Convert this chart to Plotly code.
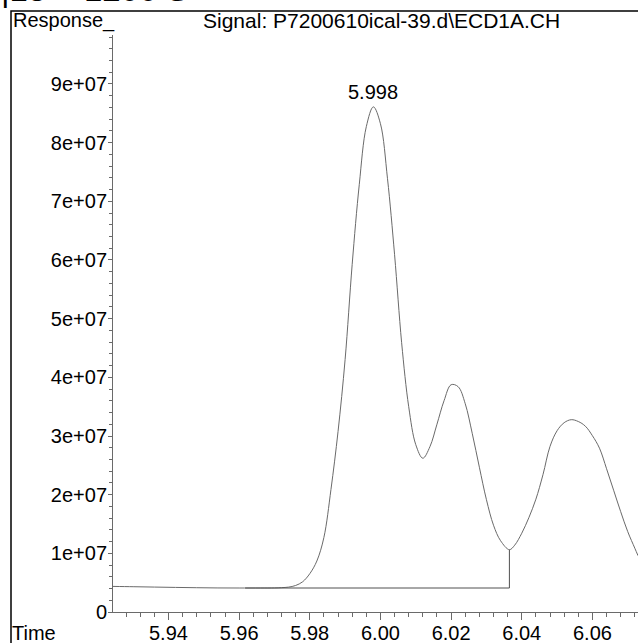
import plotly.graph_objects as go

# Chromatogram trace: retention time (min) and detector response
rt_min = [5.9243, 5.930, 5.936, 5.942, 5.948, 5.954, 5.960, 5.966, 5.970,
          5.972, 5.974, 5.976, 5.978, 5.980, 5.982, 5.984, 5.986, 5.988,
          5.990, 5.992, 5.994, 5.996, 5.998, 6.000, 6.002, 6.004, 6.006,
          6.008, 6.010, 6.012, 6.014, 6.016, 6.018, 6.020, 6.022, 6.024,
          6.026, 6.028, 6.030, 6.032, 6.034, 6.0365, 6.038, 6.040, 6.042,
          6.044, 6.046, 6.048, 6.050, 6.052, 6.054, 6.056, 6.058, 6.060,
          6.062, 6.064, 6.066, 6.068, 6.070, 6.072, 6.0729]
response = [4.36e6, 4.31e6, 4.25e6, 4.19e6, 4.14e6, 4.10e6, 4.09e6, 4.09e6,
            4.10e6, 4.15e6, 4.24e6, 4.52e6, 5.16e6, 6.53e6, 8.69e6, 1.272e7,
            2.090e7, 3.078e7, 4.305e7, 5.925e7, 7.283e7, 8.272e7, 8.61e7,
            8.323e7, 7.385e7, 6.090e7, 4.590e7, 3.499e7, 2.852e7, 2.621e7,
            2.817e7, 3.201e7, 3.601e7, 3.874e7, 3.840e7, 3.550e7, 3.039e7,
            2.468e7, 1.914e7, 1.479e7, 1.215e7, 1.062e7, 1.139e7, 1.343e7,
            1.607e7, 1.923e7, 2.340e7, 2.823e7, 3.090e7, 3.227e7, 3.278e7,
            3.247e7, 3.167e7, 3.005e7, 2.792e7, 2.442e7, 2.076e7, 1.710e7,
            1.369e7, 1.087e7, 9.60e6]

# Integration baseline of the first peak (start/end) and labelled apex
base_rt = [5.9617, 6.0365]
base_resp = [4.09e6, 4.09e6]
peak_rt = 5.998

# Axis ticks
x_ticks = [5.94, 5.96, 5.98, 6.00, 6.02, 6.04, 6.06]
x_ticklabels = ["5.94", "5.96", "5.98", "6.00", "6.02", "6.04", "6.06"]
y_ticks = [0, 1e7, 2e7, 3e7, 4e7, 5e7, 6e7, 7e7, 8e7, 9e7]
y_ticklabels = ["0", "1e+07", "2e+07", "3e+07", "4e+07", "5e+07",
                "6e+07", "7e+07", "8e+07", "9e+07"]

W, H = 638, 643
ML, MR, MT, MB = 113, 0, 35, 31
PW, PH = W - ML - MR, H - MT - MB


def px(x):
    return (x - ML) / PW


def py(y):
    return (H - MB - y) / PH


FONT = "Liberation Sans, Arial, sans-serif"
GRAY = "#6a6a6a"

fig = go.Figure()

fig.add_trace(go.Scatter(
    x=rt_min, y=response, mode="lines",
    line=dict(color=GRAY, width=1, shape="spline", smoothing=1),
    hoverinfo="skip", showlegend=False,
))

# baseline: straight line from peak start to the valley, then a drop line
valley_i = rt_min.index(base_rt[1])
fig.add_trace(go.Scatter(
    x=[base_rt[0], base_rt[1], base_rt[1]],
    y=[base_resp[0], base_resp[1], response[valley_i]],
    mode="lines", line=dict(color="#505050", width=1),
    hoverinfo="skip", showlegend=False,
))

peak_i = rt_min.index(peak_rt)
fig.add_annotation(
    x=peak_rt, y=response[peak_i], text=f"{peak_rt:.3f}", showarrow=False,
    yanchor="bottom", yshift=2, font=dict(family=FONT, size=20, color="black"),
)

# outer frame
fig.add_shape(type="rect", xref="paper", yref="paper",
              x0=px(11), x1=px(700), y0=py(700), y1=py(11),
              line=dict(color="black", width=1.5), layer="below")

# header line running off the top edge of the page
fig.add_annotation(xref="paper", yref="paper", x=px(-1), y=py(10),
                   xanchor="left", yanchor="bottom", text="|13 ~ 1200 S",
                   showarrow=False,
                   font=dict(family=FONT, size=33, color="black"))

fig.add_annotation(xref="paper", yref="paper", x=px(11), y=py(21),
                   xanchor="left", yanchor="middle", text="Response_",
                   showarrow=False, font=dict(family=FONT, size=20, color="black"))
fig.add_annotation(xref="paper", yref="paper", x=px(201), y=py(21),
                   xanchor="left", yanchor="middle",
                   text="Signal: P7200610ical-39.d\\ECD1A.CH",
                   showarrow=False, font=dict(family=FONT, size=21, color="black"))
fig.add_annotation(xref="paper", yref="paper", x=px(10), y=py(633),
                   xanchor="left", yanchor="middle", text="Time",
                   showarrow=False, font=dict(family=FONT, size=20, color="black"))

fig.update_xaxes(
    range=[5.9243, 6.0729], showgrid=False, zeroline=False, automargin=False,
    showline=True, linecolor=GRAY, linewidth=1,
    tickmode="array", tickvals=x_ticks, ticktext=x_ticklabels,
    ticks="outside", ticklen=7, tickcolor=GRAY, tickwidth=1,
    ticklabelstandoff=-4,
    tickfont=dict(family=FONT, size=20, color="black"),
    minor=dict(ticks="outside", ticklen=4, tickcolor=GRAY,
               tick0=5.94, dtick=0.004, showgrid=False),
)
fig.update_yaxes(
    range=[0, 9.835e7], showgrid=False, zeroline=False, automargin=False,
    showline=True, linecolor=GRAY, linewidth=1,
    tickmode="array", tickvals=y_ticks, ticktext=y_ticklabels,
    ticks="outside", ticklen=4, tickcolor=GRAY, tickwidth=1,
    ticklabelstandoff=-3,
    tickfont=dict(family=FONT, size=20, color="black"),
    minor=dict(ticks="outside", ticklen=3, tickcolor=GRAY,
               tick0=0, dtick=2e6, showgrid=False),
)

fig.update_layout(
    width=W, height=H, margin=dict(l=ML, r=MR, t=MT, b=MB),
    paper_bgcolor="white", plot_bgcolor="white",
)

fig.write_html("out.html")
